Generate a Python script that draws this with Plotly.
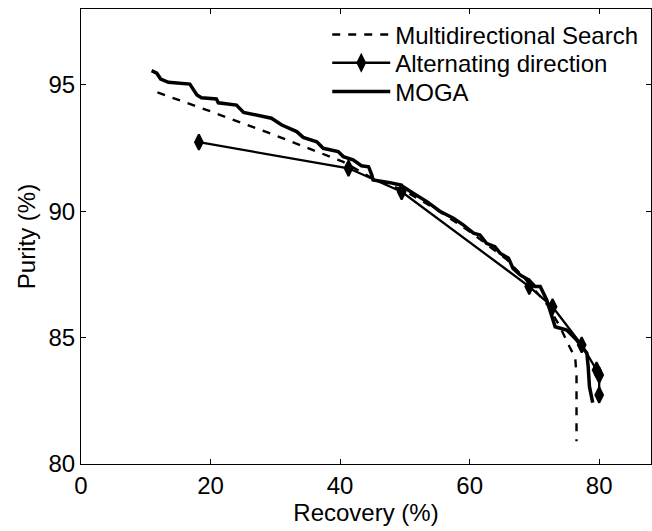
import plotly.graph_objects as go

# Multidirectional Search (dashed)
mds_x = [11.8, 20.0, 30.0, 40.5, 45.0, 50.0, 55.0, 60.0, 65.7, 69.0, 72.0, 73.8, 75.5, 76.3, 76.5, 76.5]
mds_y = [94.70, 93.95, 93.00, 91.95, 91.30, 90.80, 90.05, 89.20, 88.10, 87.20, 86.30, 85.50, 84.60, 84.20, 83.50, 80.90]

# Alternating direction (diamonds)
alt_x = [18.2, 41.3, 49.5, 69.2, 72.8, 77.3, 79.6, 80.0, 80.0]
alt_y = [92.73, 91.70, 90.77, 87.02, 86.22, 84.71, 83.72, 83.52, 82.73]

# MOGA (thick solid)
moga_x = [10.9, 11.7, 12.3, 13.5, 16.8, 17.9, 18.6, 20.9, 21.2, 24.0, 25.1, 29.4, 31.0, 33.3,
          34.3, 36.4, 37.4, 39.7, 40.5, 42.0, 43.3, 44.4, 44.9, 45.1, 47.7, 49.3, 51.3, 53.4,
          55.4, 57.5, 59.0, 60.6, 61.6, 62.6, 63.9, 64.7, 66.0, 66.7, 67.8, 69.1, 70.1, 70.9,
          71.9, 73.2, 74.0, 75.0, 76.5, 78.1, 78.3, 78.5, 79.0]
moga_y = [95.56, 95.46, 95.23, 95.10, 95.03, 94.60, 94.49, 94.44, 94.29, 94.20, 93.91, 93.68,
          93.41, 93.15, 92.92, 92.75, 92.49, 92.36, 92.16, 92.03, 91.80, 91.76, 91.43, 91.24,
          91.13, 91.04, 90.71, 90.38, 90.00, 89.72, 89.46, 89.13, 89.06, 88.73, 88.60, 88.34,
          88.14, 87.74, 87.48, 87.28, 87.02, 87.02, 86.49, 85.43, 85.37, 85.30, 84.91, 84.38,
          83.85, 83.06, 82.43]

x_ticks = [0, 20, 40, 60, 80]
y_ticks = [80, 85, 90, 95]

FONT = "Liberation Sans, Arial, sans-serif"
FS = 24

fig = go.Figure()
fig.add_trace(go.Scatter(x=mds_x, y=mds_y, mode="lines", name="Multidirectional Search",
                         legend="legend",
                         line=dict(color="black", width=2.4, dash="8px,8px")))
fig.add_trace(go.Scatter(x=alt_x, y=alt_y, mode="lines+markers", name="Alternating direction",
                         legend="legend2",
                         line=dict(color="black", width=2.3),
                         marker=dict(symbol="diamond-tall", size=11, color="black",
                                     line=dict(color="black", width=2))))
fig.add_trace(go.Scatter(x=moga_x, y=moga_y, mode="lines", name="MOGA",
                         legend="legend3",
                         line=dict(color="black", width=3.5)))

axis_common = dict(showgrid=False, zeroline=False, showline=True, linecolor="black",
                   linewidth=1, mirror="ticks", ticks="inside", ticklen=5, tickcolor="black",
                   tickfont=dict(family=FONT, size=FS, color="black"))

leg_common = dict(x=0.432, xanchor="left", yanchor="middle",
                  bgcolor="rgba(0,0,0,0)", borderwidth=0,
                  font=dict(family=FONT, size=FS, color="black"), itemwidth=58)

fig.update_layout(
    width=652, height=531,
    margin=dict(l=81, r=1, t=9, b=67),
    paper_bgcolor="white", plot_bgcolor="white",
    font=dict(family=FONT, size=FS, color="black"),
    xaxis=dict(range=[0, 88], tickvals=x_ticks,
               title=dict(text="Recovery (%)", standoff=0,
                          font=dict(family=FONT, size=FS, color="black")),
               **axis_common),
    yaxis=dict(range=[80, 98], tickvals=y_ticks,
               title=dict(text="Purity (%)", standoff=6,
                          font=dict(family=FONT, size=FS, color="black")),
               **axis_common),
    legend=dict(y=0.943, **leg_common),
    legend2=dict(y=0.881, **leg_common),
    legend3=dict(y=0.818, **leg_common),
    showlegend=True,
)

fig.write_html("out.html")
